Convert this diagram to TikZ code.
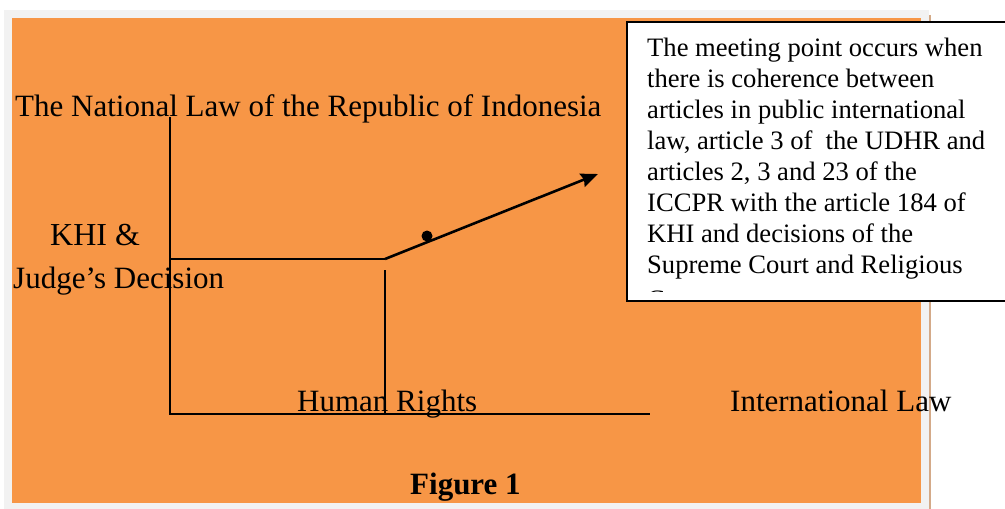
\documentclass[tikz,border=0pt]{standalone}
\usepackage{fontspec}
\setmainfont{Liberation Serif}
\usetikzlibrary{arrows.meta}
\begin{document}
\begin{tikzpicture}[x=1pt,y=-1pt,
  lbl/.style={anchor=base west,inner sep=0pt,font=\fontsize{31}{36}\selectfont},
  ln/.style={line width=2pt,black},
  boxtxt/.style={anchor=base west,inner sep=0pt,font=\fontsize{26.6}{31}\selectfont}]
\definecolor{bgorange}{HTML}{F79646}
\definecolor{bggray}{HTML}{F2F2F2}
\definecolor{tanline}{HTML}{D4AA88}
\useasboundingbox (0,0) rectangle (1005,509);
\fill[white] (0,0) rectangle (1005,509);
\fill[bggray] (4,10) rectangle (929,509);
\fill[bgorange] (12,18) rectangle (921,503);
\draw[tanline,line width=2pt] (930,15) -- (930,509);
% axes
\coordinate (top) at (170,117);
\coordinate (origin) at (170,414);
\coordinate (xend) at (650,414);
\coordinate (mid) at (385,259);
\coordinate (midleft) at (170,259);
\coordinate (hrtop) at (385,270);
\coordinate (hrbot) at (385,414);
\coordinate (tip) at (598,174);
\draw[ln] (top) -- (origin) -- (xend);
\draw[ln] (midleft) -- (mid);
\draw[ln] (hrtop) -- (hrbot);
\draw[line width=2.6pt,-{Stealth[length=17pt,width=14pt,inset=2pt]}] (mid) -- (tip);
\fill (427,236) circle (5.5pt);
% labels
\node[lbl] (nat) at (15,116) {The National Law of the Republic of Indonesia};
\node[lbl,font=\fontsize{32}{36}\selectfont] (khi) at (50,245) {KHI \&};
\node[lbl] (judge) at (13,288) {Judge’s Decision};
\node[lbl] (hr) at (297,411) {Human Rights};
\node[lbl] (il) at (730,411) {International Law};
\node[lbl,font=\fontsize{31}{36}\selectfont\bfseries] (fig) at (410,494) {Figure 1};
% text box
\fill[white] (627,22) rectangle (1010,301);
\begin{scope}
\clip (627,22) rectangle (1005,291);
\node[boxtxt] (l1) at (647,56) {The meeting point occurs when};
\node[boxtxt] (l2) at (647,87) {there is coherence between};
\node[boxtxt] (l3) at (647,118) {articles in public international};
\node[boxtxt] (l4) at (647,149) {law, article 3 of \ the UDHR and};
\node[boxtxt] (l5) at (647,180) {articles 2, 3 and 23 of the};
\node[boxtxt] (l6) at (647,211) {ICCPR with the article 184 of};
\node[boxtxt] (l7) at (647,242) {KHI and decisions of the};
\node[boxtxt] (l8) at (647,273) {Supreme Court and Religious};
\node[boxtxt] (l9) at (647,308) {Courts};
\end{scope}
\draw[line width=1.8pt] (627,22) rectangle (1020,301);
\end{tikzpicture}
\end{document}
